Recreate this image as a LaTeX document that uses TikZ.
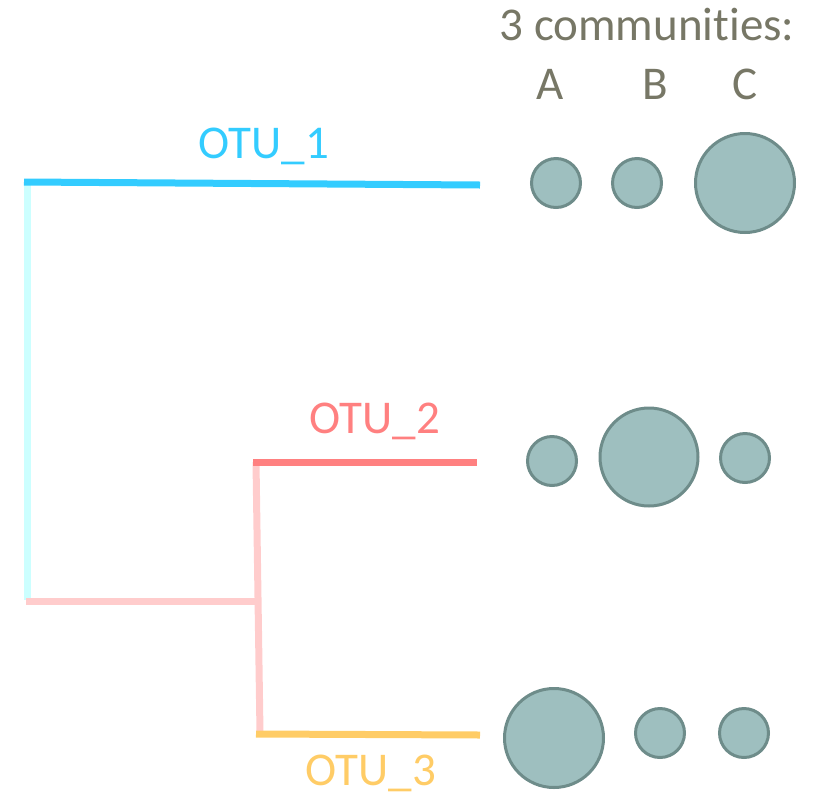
\documentclass[tikz,border=0pt]{standalone}
\usepackage{fontspec}
\setmainfont{Carlito}[Ligatures=NoCommon]
\usepackage{tikz}
\usetikzlibrary{positioning,calc}
\usepackage{xcolor}
\definecolor{otublue}{RGB}{51,204,255}
\definecolor{otucyan}{RGB}{204,255,255}
\definecolor{otured}{RGB}{255,128,128}
\definecolor{otupink}{RGB}{255,204,204}
\definecolor{otuyellow}{RGB}{255,204,102}
\definecolor{cgray}{RGB}{119,119,102}
\definecolor{bubfill}{RGB}{158,191,191}
\definecolor{bubdraw}{RGB}{110,140,138}
\tikzstyle{branch} = [line width=7pt]
\tikzstyle{lbl} = [inner sep=0pt, anchor=base, font=\fontsize{47}{56}\selectfont]
\tikzstyle{bubble} = [circle, draw=bubdraw, fill=bubfill, line width=3pt, inner sep=0pt]

\begin{document}
\begin{tikzpicture}[x=1pt, y=-1pt]
\useasboundingbox (0,0) rectangle (825,796);

% tree
\coordinate (root1) at (24,182);
\coordinate (leaf1) at (480,185);
\coordinate (roottop) at (27,185);
\coordinate (rootbot) at (27,600);
\coordinate (root2) at (26,601);
\coordinate (inner) at (258,601);
\coordinate (innertop) at (256,462);
\coordinate (innerbot) at (260,733);
\coordinate (start2) at (253,462);
\coordinate (leaf2) at (477,462);
\coordinate (start3) at (256,734);
\coordinate (leaf3) at (480,735);

\draw[branch, otucyan] (roottop) -- (rootbot);
\draw[branch, otupink] (root2) -- (inner);
\draw[branch, otupink] (innertop) -- (innerbot);
\draw[branch, otublue] (root1) -- (leaf1);
\draw[branch, otured] (start2) -- (leaf2);
\draw[branch, otuyellow] (start3) -- (leaf3);

% labels
\node[lbl, otublue] (otu1) at (264,158) {OTU\_1};
\node[lbl, otured] (otu2) at (375,433) {OTU\_2};
\node[lbl, otuyellow] (otu3) at (371,785) {OTU\_3};

% communities
\node[lbl, cgray] (title) at (647,40) {3 communities:};
\node[lbl, cgray] (ca) at (550,99) {A};
\node[lbl, cgray] (cb) at (655,99) {B};
\node[lbl, cgray] (cc) at (745,99) {C};

% abundances
\node[bubble, minimum size=49pt] (a1) at (556,183) {};
\node[bubble, minimum size=49pt] (b1) at (637,183) {};
\node[bubble, minimum size=99pt] (c1) at (745,183) {};
\node[bubble, minimum size=49pt] (a2) at (552,461) {};
\node[bubble, minimum size=98pt] (b2) at (649,457) {};
\node[bubble, minimum size=49pt] (c2) at (745,458) {};
\node[bubble, minimum size=99pt] (a3) at (554,738) {};
\node[bubble, minimum size=49pt] (b3) at (660,733) {};
\node[bubble, minimum size=49pt] (c3) at (744,733) {};
\end{tikzpicture}
\end{document}
